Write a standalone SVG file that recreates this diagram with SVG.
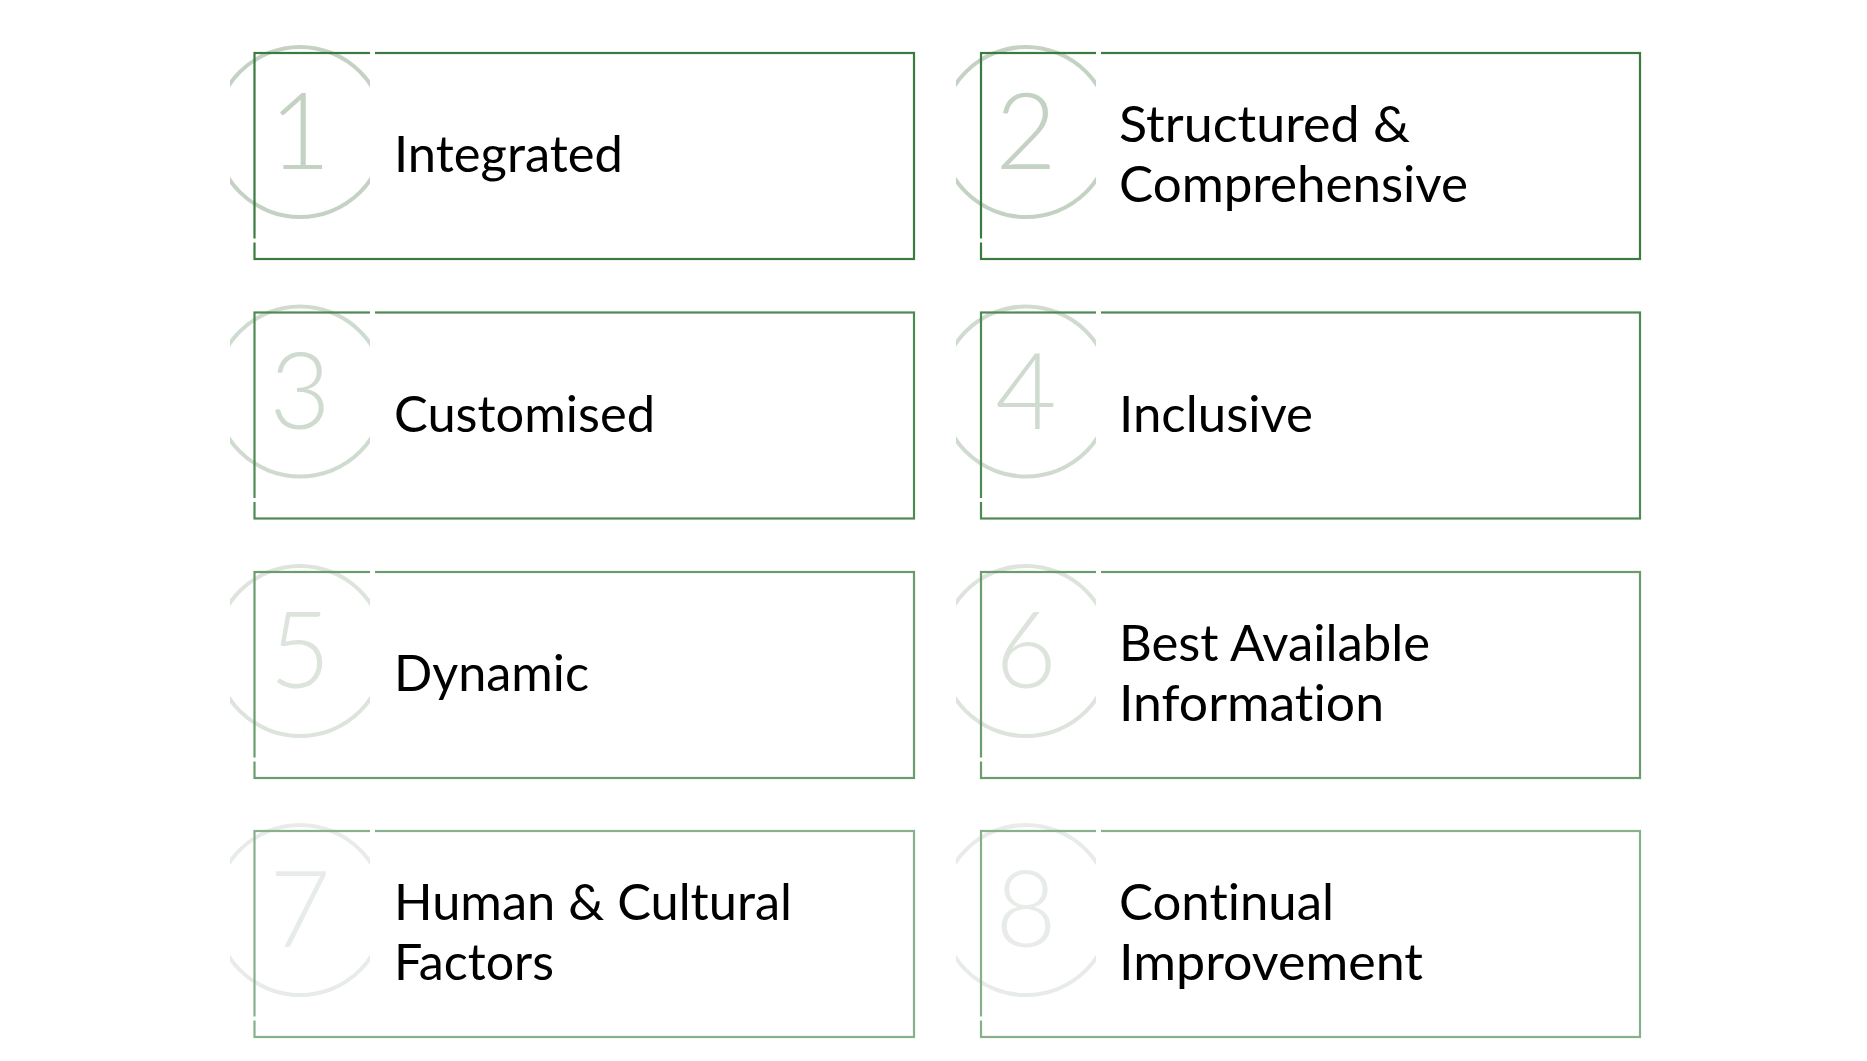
<svg xmlns="http://www.w3.org/2000/svg" width="1867" height="1061" viewBox="0 0 1867 1061">
<style>
  .box{fill:none;stroke-width:2.2}
  .ring{fill:none;stroke-width:4}
  .num{font-family:Lato,Roboto,"Open Sans",sans-serif;font-weight:300;font-size:106px;text-anchor:middle}
  .lbl{font-family:Lato,"Open Sans","Liberation Sans",sans-serif;font-size:49.5px;fill:#000;font-variant-ligatures:none;font-feature-settings:"liga" 0,"dlig" 0}
  .gap{fill:#fff}
  .r1 .box{stroke:#3b7b40} .r1 .ring{stroke:#c4d2c4} .r1 .num{fill:#c4d2c4}
  .r2 .box{stroke:#4f8a55} .r2 .ring{stroke:#d0dbd0} .r2 .num{fill:#d0dbd0}
  .r3 .box{stroke:#6a9c6e} .r3 .ring{stroke:#dce4dc} .r3 .num{fill:#dce4dc}
  .r4 .box{stroke:#86b18a} .r4 .ring{stroke:#e8ece8} .r4 .num{fill:#e8ece8}
</style>
<defs>
  <clipPath id="c1"><rect x="230" y="0" width="140" height="1061"/></clipPath>
  <clipPath id="c2"><rect x="956" y="0" width="140" height="1061"/></clipPath>
</defs>
<rect width="1867" height="1061" fill="#fff"/>
<g id="connectors"/>

<g id="node1" class="r1">
  <circle class="ring" cx="300" cy="132" r="85" clip-path="url(#c1)"/>
  <text class="num" x="300" y="169">1</text>
  <rect class="box" x="254.5" y="53" width="659.5" height="206"/>
  <rect class="gap" x="370" y="50" width="5" height="6"/>
  <rect class="gap" x="251.5" y="238.5" width="6" height="4"/>
  <text class="lbl" x="394" y="172" textLength="229" lengthAdjust="spacingAndGlyphs">Integrated</text>
</g>
<g id="node2" class="r1">
  <circle class="ring" cx="1026" cy="132" r="85" clip-path="url(#c2)"/>
  <text class="num" x="1026" y="169">2</text>
  <rect class="box" x="981" y="53" width="659" height="206"/>
  <rect class="gap" x="1096" y="50" width="5" height="6"/>
  <rect class="gap" x="978" y="238.5" width="6" height="4"/>
  <text class="lbl"><tspan x="1119" y="142" textLength="291" lengthAdjust="spacingAndGlyphs">Structured &amp;</tspan><tspan x="1119" y="202" textLength="349" lengthAdjust="spacingAndGlyphs">Comprehensive</tspan></text>
</g>
<g id="node3" class="r2">
  <circle class="ring" cx="300" cy="391.5" r="85" clip-path="url(#c1)"/>
  <text class="num" x="300" y="428.5">3</text>
  <rect class="box" x="254.5" y="312.5" width="659.5" height="206"/>
  <rect class="gap" x="370" y="309.5" width="5" height="6"/>
  <rect class="gap" x="251.5" y="498" width="6" height="4"/>
  <text class="lbl" x="394" y="431.5" textLength="261" lengthAdjust="spacingAndGlyphs">Customised</text>
</g>
<g id="node4" class="r2">
  <circle class="ring" cx="1026" cy="391.5" r="85" clip-path="url(#c2)"/>
  <text class="num" x="1026" y="428.5">4</text>
  <rect class="box" x="981" y="312.5" width="659" height="206"/>
  <rect class="gap" x="1096" y="309.5" width="5" height="6"/>
  <rect class="gap" x="978" y="498" width="6" height="4"/>
  <text class="lbl" x="1119" y="431.5" textLength="194" lengthAdjust="spacingAndGlyphs">Inclusive</text>
</g>
<g id="node5" class="r3">
  <circle class="ring" cx="300" cy="651" r="85" clip-path="url(#c1)"/>
  <text class="num" x="300" y="688">5</text>
  <rect class="box" x="254.5" y="572" width="659.5" height="206"/>
  <rect class="gap" x="370" y="569" width="5" height="6"/>
  <rect class="gap" x="251.5" y="757.5" width="6" height="4"/>
  <text class="lbl" x="394" y="691" textLength="195" lengthAdjust="spacingAndGlyphs">Dynamic</text>
</g>
<g id="node6" class="r3">
  <circle class="ring" cx="1026" cy="651" r="85" clip-path="url(#c2)"/>
  <text class="num" x="1026" y="688">6</text>
  <rect class="box" x="981" y="572" width="659" height="206"/>
  <rect class="gap" x="1096" y="569" width="5" height="6"/>
  <rect class="gap" x="978" y="757.5" width="6" height="4"/>
  <text class="lbl"><tspan x="1119" y="661" textLength="311" lengthAdjust="spacingAndGlyphs">Best Available</tspan><tspan x="1119" y="721" textLength="265" lengthAdjust="spacingAndGlyphs">Information</tspan></text>
</g>
<g id="node7" class="r4">
  <circle class="ring" cx="300" cy="910" r="85" clip-path="url(#c1)"/>
  <text class="num" x="300" y="947">7</text>
  <rect class="box" x="254.5" y="831" width="659.5" height="206"/>
  <rect class="gap" x="370" y="828" width="5" height="6"/>
  <rect class="gap" x="251.5" y="1016.5" width="6" height="4"/>
  <text class="lbl"><tspan x="394" y="920" textLength="398" lengthAdjust="spacingAndGlyphs">Human &amp; Cultural</tspan><tspan x="394" y="980" textLength="160" lengthAdjust="spacingAndGlyphs">Factors</tspan></text>
</g>
<g id="node8" class="r4">
  <circle class="ring" cx="1026" cy="910" r="85" clip-path="url(#c2)"/>
  <text class="num" x="1026" y="947">8</text>
  <rect class="box" x="981" y="831" width="659" height="206"/>
  <rect class="gap" x="1096" y="828" width="5" height="6"/>
  <rect class="gap" x="978" y="1016.5" width="6" height="4"/>
  <text class="lbl"><tspan x="1119" y="920" textLength="215" lengthAdjust="spacingAndGlyphs">Continual</tspan><tspan x="1119" y="980" textLength="304" lengthAdjust="spacingAndGlyphs">Improvement</tspan></text>
</g>
</svg>
